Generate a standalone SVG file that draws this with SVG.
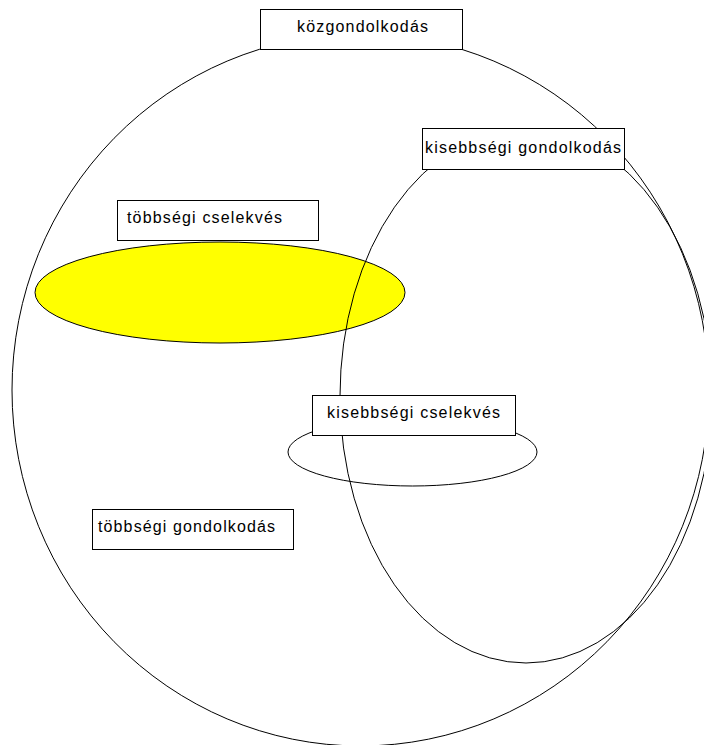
<svg xmlns="http://www.w3.org/2000/svg" width="704" height="745" viewBox="0 0 704 745">
<style>
.o{fill:none;stroke:#000;stroke-width:1}
.b{fill:#fff;stroke:#000;stroke-width:1}
.t{font-family:"Liberation Sans",Arial,sans-serif;font-size:16px;fill:#000}
</style>
<rect width="704" height="745" fill="#fff"/>
<g id="yellow-ellipse">
<ellipse cx="220" cy="292.5" rx="185" ry="50.5" fill="#ffff00" stroke="#000" stroke-width="1"/>
</g>
<g id="kozgondolkodas-circle">
<ellipse class="o" cx="360.5" cy="390" rx="348.5" ry="356"/>
</g>
<g id="kisebbsegi-gondolkodas-ellipse">
<ellipse class="o" cx="526" cy="396" rx="186" ry="267"/>
</g>
<g id="kisebbsegi-cselekves-ellipse">
<ellipse class="o" cx="412.5" cy="452" rx="124.5" ry="34"/>
</g>
<g id="kozgondolkodas">
<rect class="b" x="260.5" y="9.5" width="202" height="40"/>
<text class="t" x="297" y="32" textLength="131" lengthAdjust="spacing">közgondolkodás</text>
</g>
<g id="kisebbsegi-gondolkodas">
<rect class="b" x="422.5" y="128.5" width="202" height="41"/>
<text class="t" x="425" y="153" textLength="196" lengthAdjust="spacing">kisebbségi gondolkodás</text>
</g>
<g id="tobbsegi-cselekves">
<rect class="b" x="117.5" y="200.5" width="201" height="40"/>
<text class="t" x="127" y="223" textLength="155" lengthAdjust="spacing">többségi cselekvés</text>
</g>
<g id="kisebbsegi-cselekves">
<rect class="b" x="312.5" y="395.5" width="203" height="40"/>
<text class="t" x="327" y="418" textLength="173" lengthAdjust="spacing">kisebbségi cselekvés</text>
</g>
<g id="tobbsegi-gondolkodas">
<rect class="b" x="92.5" y="509.5" width="201" height="40"/>
<text class="t" x="98" y="532" textLength="177" lengthAdjust="spacing">többségi gondolkodás</text>
</g>
</svg>
